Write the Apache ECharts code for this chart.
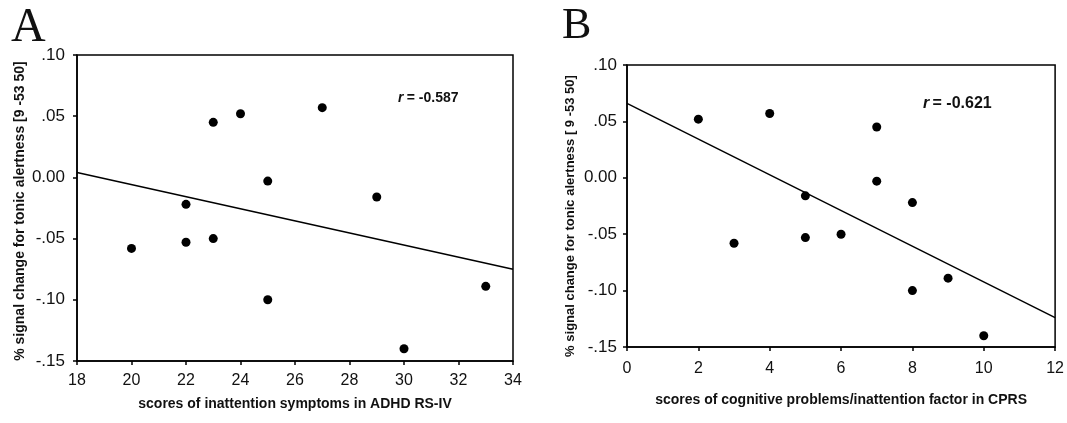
<!DOCTYPE html>
<html>
<head>
<meta charset="utf-8">
<script src="https://cdn.jsdelivr.net/npm/echarts@6/dist/echarts.min.js"></script>
<style>
html,body{margin:0;padding:0;background:#fff;}
#chart{width:1067px;height:423px;}
</style>
</head>
<body>
<div id="chart"></div>
<script>
// Panel A data: inattention symptoms (ADHD RS-IV) vs % signal change
const scoresA = [20, 22, 22, 23, 23, 24, 25, 25, 27, 29, 30, 33];
const signalA = [-0.058, -0.022, -0.053, 0.045, -0.050, 0.052, -0.003, -0.100, 0.057, -0.016, -0.140, -0.089];
const fitAx = [18, 34];
const fitAy = [0.004, -0.075];
const rA = '-0.587';

// Panel B data: cognitive problems/inattention factor (CPRS) vs % signal change
const scoresB = [2, 3, 4, 5, 5, 6, 7, 7, 8, 8, 9, 10];
const signalB = [0.052, -0.058, 0.057, -0.016, -0.053, -0.050, 0.045, -0.003, -0.022, -0.100, -0.089, -0.140];
const fitBx = [0, 12];
const fitBy = [0.066, -0.124];
const rB = '-0.621';

const yTicks = ['.10', '.05', '0.00', '-.05', '-.10', '-.15'];

const FONT = 'Liberation Sans, Arial, sans-serif';
function fmtY(v) {
  const n = Math.round(Math.abs(v) * 100);
  if (n === 0) return '0.00';
  const s = '.' + String(n).padStart(2, '0');
  return v < 0 ? '-' + s : s;
}
const pairs = (xs, ys) => xs.map((x, i) => [x, ys[i]]);

const chart = echarts.init(document.getElementById('chart'), null, {renderer: 'canvas'});

function xAxis(idx, min, max, name, gap, margin) {
  return {
    type: 'value', gridIndex: idx, min: min, max: max, interval: 2,
    name: name, nameLocation: 'middle', nameGap: gap,
    nameTextStyle: {fontFamily: FONT, fontWeight: 'bold', fontSize: 14, color: '#111', verticalAlign: 'top'},
    axisLine: {show: true, onZero: false, lineStyle: {color: '#000', width: 1.5}},
    axisTick: {show: true, inside: false, length: 4, lineStyle: {color: '#000', width: 1.5}},
    axisLabel: {fontFamily: FONT, fontSize: 16, color: '#111', margin: margin},
    splitLine: {show: false}
  };
}
function yAxis(idx, name, gap, margin, fs, pad) {
  return {
    type: 'value', gridIndex: idx, min: -0.15, max: 0.10, interval: 0.05,
    name: name, nameLocation: 'middle', nameGap: gap, nameRotate: 90,
    nameTextStyle: {fontFamily: FONT, fontWeight: 'bold', fontSize: fs, color: '#111', padding: pad},
    axisLine: {show: true, onZero: false, lineStyle: {color: '#000', width: 1.5}},
    axisTick: {show: true, inside: false, length: 4, lineStyle: {color: '#000', width: 1.5}},
    axisLabel: {fontFamily: FONT, fontSize: 17, color: '#111', margin: margin, formatter: fmtY},
    splitLine: {show: false}
  };
}

const option = {
  backgroundColor: '#fff',
  animation: false,
  grid: [
    {left: 77, top: 55, width: 436, height: 306, show: true, borderColor: '#000', borderWidth: 1.5, backgroundColor: 'transparent'},
    {left: 627, top: 65, width: 430, height: 282, show: true, borderColor: '#000', borderWidth: 1.5, backgroundColor: 'transparent'}
  ],
  xAxis: [
    xAxis(0, 18, 34, 'scores of inattention symptoms in ADHD RS-IV', 36, 12),
    xAxis(1, 0, 12, 'scores of cognitive problems/inattention factor in CPRS', 46, 14)
  ],
  yAxis: [
    yAxis(0, '% signal change for tonic alertness [9 -53 50]', 50, 12, 14, [0, 6, 0, 0]),
    yAxis(1, '% signal change for tonic alertness [ 9 -53 50]', 50, 10, 13, [0, 20, 0, 0])
  ],
  series: [
    {type: 'scatter', xAxisIndex: 0, yAxisIndex: 0, data: pairs(scoresA, signalA), symbolSize: 9, itemStyle: {color: '#000', opacity: 1}},
    {type: 'line', xAxisIndex: 0, yAxisIndex: 0, data: pairs(fitAx, fitAy), symbol: 'none', lineStyle: {color: '#000', width: 1.5}},
    {type: 'scatter', xAxisIndex: 1, yAxisIndex: 1, data: pairs(scoresB, signalB), symbolSize: 9, itemStyle: {color: '#000', opacity: 1}},
    {type: 'line', xAxisIndex: 1, yAxisIndex: 1, data: pairs(fitBx, fitBy), symbol: 'none', lineStyle: {color: '#000', width: 1.5}}
  ],
  graphic: [
    {type: 'text', left: 11, top: 4, style: {text: 'A', font: '48px "Liberation Serif", serif', fill: '#111'}},
    {type: 'text', left: 562, top: 4, style: {text: 'B', font: '44px "Liberation Serif", serif', fill: '#111'}},
    {type: 'text', left: 398, top: 91, style: {
      text: '{i|r} {b|= ' + rA + '}',
      rich: {i: {fontFamily: FONT, fontStyle: 'italic', fontWeight: 'bold', fontSize: 14, fill: '#111'},
             b: {fontFamily: FONT, fontWeight: 'bold', fontSize: 14, fill: '#111'}}}},
    {type: 'text', left: 923, top: 96, style: {
      text: '{i|r} {b|= ' + rB + '}',
      rich: {i: {fontFamily: FONT, fontStyle: 'italic', fontWeight: 'bold', fontSize: 16, fill: '#111'},
             b: {fontFamily: FONT, fontWeight: 'bold', fontSize: 16, fill: '#111'}}}}
  ]
};
chart.setOption(option);
</script>
</body>
</html>
